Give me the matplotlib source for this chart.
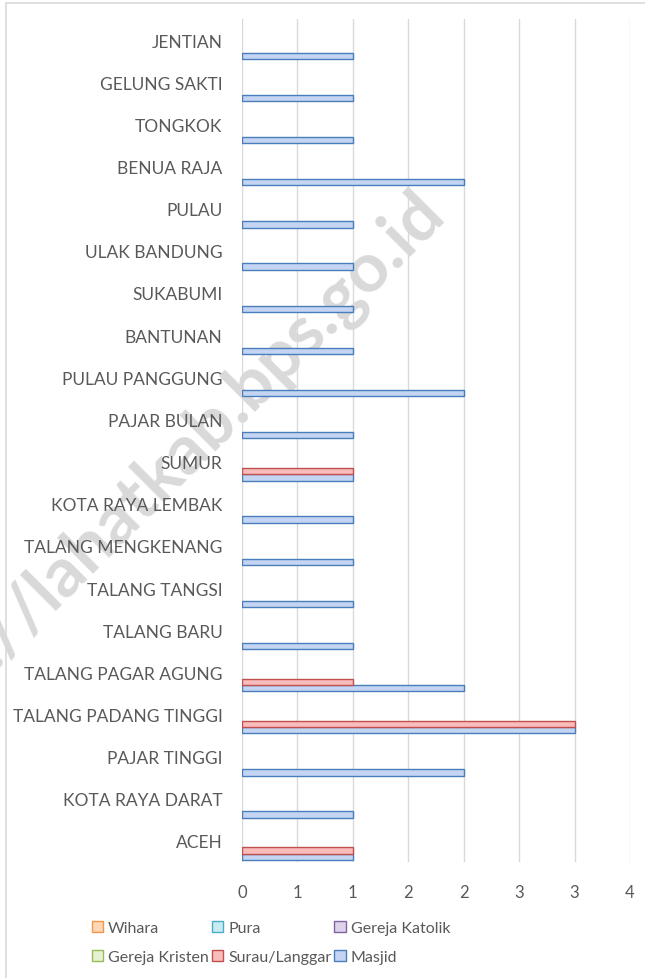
import numpy as np
import matplotlib
matplotlib.use("Agg")
import matplotlib.pyplot as plt
from matplotlib.patches import Patch, Rectangle

plt.rcParams['font.family'] = ['Lato', 'DejaVu Sans']

# categories, bottom to top
villages = ["ACEH", "KOTA RAYA DARAT", "PAJAR TINGGI", "TALANG PADANG TINGGI",
            "TALANG PAGAR AGUNG", "TALANG BARU", "TALANG TANGSI", "TALANG MENGKENANG",
            "KOTA RAYA LEMBAK", "SUMUR", "PAJAR BULAN", "PULAU PANGGUNG", "BANTUNAN",
            "SUKABUMI", "ULAK BANDUNG", "PULAU", "BENUA RAJA", "TONGKOK",
            "GELUNG SAKTI", "JENTIAN"]

masjid = [1, 1, 2, 3, 2, 1, 1, 1, 1, 1, 1, 2, 1, 1, 1, 1, 2, 1, 1, 1]
surau = [1, 0, 0, 3, 1, 0, 0, 0, 0, 1, 0, 0, 0, 0, 0, 0, 0, 0, 0, 0]
kristen = [0] * 20
katolik = [0] * 20
pura = [0] * 20
wihara = [0] * 20

xticks = [0, 0.5, 1, 1.5, 2, 2.5, 3, 3.5]
xtick_labels = ["0", "1", "1", "2", "2", "3", "3", "4"]

# series drawn from the bottom of each group upward
series = [
    ("Masjid", masjid, "#c3d5f2", "#4a7ebb"),
    ("Surau/Langgar", surau, "#f8bcbb", "#c0504d"),
    ("Gereja Kristen", kristen, "#e6f0d3", "#9bbb59"),
    ("Gereja Katolik", katolik, "#ddd3ea", "#8064a2"),
    ("Pura", pura, "#c9ebf4", "#4bacc6"),
    ("Wihara", wihara, "#fdd7b8", "#f79646"),
]

grey = "#595959"
fig = plt.figure(figsize=(6.45, 9.79), dpi=100)
ax = fig.add_axes([242 / 645, 1 - 863 / 979, (630 - 242) / 645, (863 - 20) / 979])
ax.patch.set_alpha(0)

y = np.arange(len(villages))
h = 0.15
handles = {}
for i, (name, vals, face, edge) in enumerate(series):
    vals = np.array(vals, dtype=float)
    off = (i - 2.5) * h
    # soft shadow
    ax.barh(y + off - 0.02, vals, height=h, left=0.01, color="#000000", alpha=0.08,
            linewidth=0, zorder=2)
    ax.barh(y + off, vals, height=h, color=face, edgecolor=edge,
            linewidth=np.where(vals > 0, 1.0, 0.0), zorder=3)
    handles[name] = Patch(facecolor=face, edgecolor=edge, linewidth=1.0)

ax.set_xlim(0, 3.5)
ax.set_ylim(-0.5, len(villages) - 0.5)
ax.set_xticks(xticks)
ax.set_xticklabels(xtick_labels)
ax.set_yticks(y)
ax.set_yticklabels(villages)
ax.tick_params(axis="both", length=0, labelsize=12.5, labelcolor=grey)
ax.tick_params(axis="x", labelsize=12, pad=16)
ax.tick_params(axis="y", pad=14)
ax.grid(axis="x", color="#d9d9d9", linewidth=1.0, zorder=0)
ax.set_axisbelow(True)
for s in ax.spines.values():
    s.set_visible(False)

order = ["Wihara", "Gereja Kristen", "Pura", "Surau/Langgar", "Gereja Katolik", "Masjid"]
fig.legend([handles[n] for n in order], order, ncol=3, loc="center",
           bbox_to_anchor=(0.42, 1 - 943.5 / 979), frameon=False, fontsize=11.5,
           labelcolor=grey, handlelength=0.72, handleheight=0.72, handletextpad=0.3,
           columnspacing=0.2, labelspacing=0.95, borderpad=0)

# outer chart border (top and left only visible)
fig.add_artist(Rectangle((5.5 / 645, -0.1), 1.2, 1.1 - 4 / 979,
                         transform=fig.transFigure, fill=False, edgecolor="#d9d9d9",
                         linewidth=1.2))

# watermark, behind the plot
fig.text(434 / 645, 1 - 203 / 979, "https://lahatkab.bps.go.id", rotation=45,
         rotation_mode="anchor", ha="right", va="center", fontsize=50,
         fontweight="bold", color="#d9d9d9", zorder=-1)

fig.savefig("out.png", dpi=100)
